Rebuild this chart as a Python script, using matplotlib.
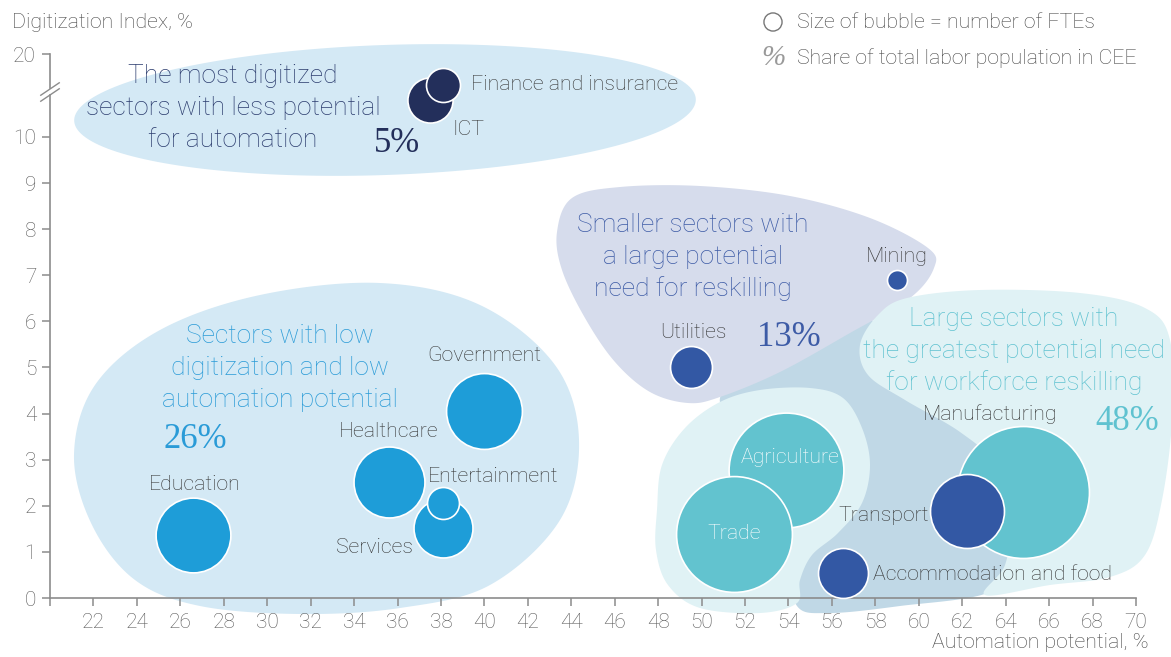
import numpy as np
import matplotlib
matplotlib.use('Agg')
import matplotlib.pyplot as plt
from matplotlib.patches import Polygon

# ---------------- data ----------------
sectors = ['ICT', 'Finance and insurance', 'Government', 'Healthcare', 'Services',
           'Entertainment', 'Education', 'Utilities', 'Mining', 'Agriculture',
           'Trade', 'Manufacturing', 'Transport', 'Accommodation and food']
automation = [37.5, 38.1, 40.0, 35.6, 38.1, 38.1, 26.6, 49.5, 59.0, 53.9, 51.5, 64.8, 62.2, 56.5]
digitization = [14.4, 16.3, 4.05, 2.52, 1.52, 2.07, 1.37, 5.0, 6.9, 2.78, 1.39, 2.3, 1.89, 0.54]
fte = [510, 290, 1440, 1260, 870, 256, 1400, 440, 100, 3300, 3360, 4360, 1370, 625]
group = ['digital', 'digital', 'low', 'low', 'low', 'low', 'low', 'small', 'small',
         'large', 'large', 'large', 'small', 'small']

x_ticks = list(range(20, 71, 2))
y_ticks = [0, 1, 2, 3, 4, 5, 6, 7, 8, 9, 10, 20]

group_colors = {'digital': '#232f5b', 'low': '#1e9dd8', 'small': '#3358a4', 'large': '#62c3cf'}

# label placement: (dx pts, dy pts, ha, color)
label_style = {
    'ICT': (16, -21, 'left', '#333333'),
    'Finance and insurance': (20, 0, 'left', '#333333'),
    'Government': (0, 40, 'center', '#333333'),
    'Healthcare': (0, 36, 'center', '#333333'),
    'Services': (-22, -14, 'right', '#333333'),
    'Entertainment': (-11, 19, 'left', '#333333'),
    'Education': (1, 36, 'center', '#333333'),
    'Utilities': (2, 25, 'center', '#333333'),
    'Mining': (0, 17, 'center', '#333333'),
    'Agriculture': (3, 9, 'center', 'white'),
    'Trade': (0, 0, 'center', 'white'),
    'Manufacturing': (-24, 56, 'center', '#333333'),
    'Transport': (-27, -3, 'right', '#333333'),
    'Accommodation and food': (22, -1, 'left', '#333333'),
}

region_titles = [
    (['The most digitized', 'sectors with less potential', 'for automation'], '5%', '#2b3c6e', '#232f5b'),
    (['Sectors with low', 'digitization and low', 'automation potential'], '26%', '#2a9bd7', '#2a9bd7'),
    (['Smaller sectors with', 'a large potential', 'need for reskilling'], '13%', '#3d5ba6', '#3d5ba6'),
    (['Large sectors with', 'the greatest potential need', 'for workforce reskilling'], '48%', '#5fc2d0',
     '#5fc2d0'),
]
# (title centre x, first line y, percent x, percent y) in pixels
region_pos = [(233, 76, 397, 143), (280, 336, 195, 440), (693, 225, 789, 337), (1014, 319, 1127, 422)]

FONT = ['Roboto', 'DejaVu Sans']
SERIF = ['Liberation Serif', 'DejaVu Serif']
plt.rcParams['font.family'] = FONT
plt.rcParams['font.weight'] = 'light'

LS = 15.3   # label size
TS = 19     # region title size
PS = 25     # percentage size
LINE_H = 32  # title line height, px

W, H = 1171, 657
fig = plt.figure(figsize=(W / 100, H / 100), dpi=100)

# background decoration axes in pixel coordinates
bg = fig.add_axes([0, 0, 1, 1], zorder=0)
bg.set_xlim(0, W)
bg.set_ylim(H, 0)
bg.axis('off')


def smooth_closed(pts, n=30):
    P = np.array(pts, float)
    N = len(P)
    out = []
    t = np.linspace(0, 1, n, endpoint=False)[:, None]
    for i in range(N):
        p0, p1, p2, p3 = P[i - 1], P[i], P[(i + 1) % N], P[(i + 2) % N]
        out.append(0.5 * ((2 * p1) + (-p0 + p2) * t + (2 * p0 - 5 * p1 + 4 * p2 - p3) * t ** 2
                          + (-p0 + 3 * p1 - 3 * p2 + p3) * t ** 3))
    return np.vstack(out)


def ellipse(cx, cy, a, b, rot_deg, n=200):
    th = np.linspace(0, 2 * np.pi, n)
    x, y = a * np.cos(th), b * np.sin(th)
    r = np.deg2rad(rot_deg)
    return np.column_stack([cx + x * np.cos(r) - y * np.sin(r), cy + x * np.sin(r) + y * np.cos(r)])


C_BLUE_BG = '#d4e9f5'
C_LAV = '#d6dcec'
C_BAND = '#c0d8e6'
C_TEAL_BG = '#e0f2f5'

# top region
bg.add_patch(Polygon(ellipse(385, 110, 311, 65, -2), closed=True, fc=C_BLUE_BG, ec='none'))
# left region
left_pts = [(74, 455), (95, 385), (160, 330), (260, 295), (380, 283), (480, 305), (555, 365),
            (579, 440), (560, 520), (490, 585), (400, 608), (300, 614), (200, 606), (135, 580), (92, 525)]
bg.add_patch(Polygon(smooth_closed(left_pts), closed=True, fc=C_BLUE_BG, ec='none'))
# band
band_pts = [(720, 398), (780, 358), (850, 322), (885, 330), (1000, 440), (1015, 555), (990, 592),
            (900, 606), (830, 613), (797, 606), (790, 560), (760, 450)]
bg.add_patch(Polygon(smooth_closed(band_pts), closed=True, fc=C_BAND, ec='none'))
# lavender
lav_pts = [(557, 232), (572, 198), (620, 187), (700, 186), (790, 196), (870, 218), (928, 248),
           (934, 268), (910, 298), (850, 333), (780, 372), (720, 397), (688, 403), (650, 392),
           (615, 362), (585, 318), (562, 270)]
bg.add_patch(Polygon(smooth_closed(lav_pts), closed=True, fc=C_LAV, ec='none'))
# right teal region
teal_pts = [(907, 298), (980, 290), (1080, 293), (1145, 308), (1170, 340), (1172, 420), (1162, 500),
            (1145, 555), (1110, 577), (1050, 585), (985, 595), (1005, 565), (1010, 520), (995, 465),
            (960, 432), (905, 400), (868, 375), (860, 345), (878, 315)]
bg.add_patch(Polygon(smooth_closed(teal_pts), closed=True, fc=C_TEAL_BG, ec='none'))
# agriculture lobe
lobe_pts = [(657, 510), (662, 465), (685, 428), (720, 402), (760, 390), (810, 388), (843, 398),
            (862, 428), (870, 465), (862, 503), (838, 533), (812, 555), (800, 580), (797, 603),
            (760, 613), (700, 608), (668, 585), (656, 550)]
bg.add_patch(Polygon(smooth_closed(lobe_pts), closed=True, fc=C_TEAL_BG, ec='none'))

# region titles and shares
for (lines, pct, tcol, pcol), (tx, ty, px, py) in zip(region_titles, region_pos):
    for k, line in enumerate(lines):
        bg.text(tx, ty + k * LINE_H, line, ha='center', va='center', fontsize=TS, color=tcol)
    bg.text(px, py, pct, ha='center', va='center', fontsize=PS, color=pcol, family=SERIF)

# legend
bg.scatter([773], [22], s=170, facecolors='none', edgecolors='#777777', linewidths=1.0)
bg.text(797, 22, 'Size of bubble = number of FTEs', ha='left', va='center', fontsize=LS, color='#444444')
bg.text(773, 58, '%', ha='center', va='center', fontsize=21, color='#999999', family=SERIF, style='italic')
bg.text(797, 58, 'Share of total labor population in CEE', ha='left', va='center', fontsize=LS,
        color='#444444')

# axis titles
bg.text(12, 22, 'Digitization Index, %', ha='left', va='center', fontsize=LS, color='#444444')
bg.text(1148, 643, 'Automation potential, %', ha='right', va='center', fontsize=LS, color='#444444')

# ---------------- main axes ----------------
left, right = 50 / W, 1136 / W
bottom, top = (H - 598) / H, (H - 54) / H
ax = fig.add_axes([left, bottom, right - left, top - bottom], zorder=1)
ax.patch.set_alpha(0)


def fwd(y):
    y = np.asarray(y, float)
    return np.where(y <= 10, y, 10 + (y - 10) * 0.18)


def inv(t):
    t = np.asarray(t, float)
    return np.where(t <= 10, t, 10 + (t - 10) / 0.18)


ax.set_yscale('function', functions=(fwd, inv))
ax.set_xlim(20, 70)
ax.set_ylim(0, 20)

colors = [group_colors[g] for g in group]
sizes = [f * 2.07 for f in fte]
for i, name in enumerate(sectors):
    ax.scatter([automation[i]], [digitization[i]], s=sizes[i], color=colors[i], edgecolors='white',
               linewidths=1.2, zorder=3 + i, clip_on=False)
    dx, dy, ha, col = label_style[name]
    ax.annotate(name, (automation[i], digitization[i]), xytext=(dx, dy), textcoords='offset points',
                ha=ha, va='center', fontsize=LS, color=col, zorder=30)

AX_C = '#8c8c8c'
for s in ['top', 'right', 'left']:
    ax.spines[s].set_visible(False)
ax.spines['bottom'].set_color(AX_C)
ax.spines['bottom'].set_linewidth(1.2)

ax.set_xticks(x_ticks)
ax.set_xticklabels(['' if v == 20 else str(v) for v in x_ticks])
ax.set_yticks(y_ticks)
ax.set_yticklabels([str(v) for v in y_ticks])
ax.tick_params(axis='both', colors=AX_C, length=6, width=1.1, labelsize=15, labelcolor='#595959')
ax.tick_params(axis='x', pad=5)
ax.tick_params(axis='y', pad=4)

# left spine with a break
ax.plot([20, 20], [0, 15.0], color=AX_C, lw=1.2, clip_on=False, zorder=2)
ax.plot([20, 20], [15.85, 20], color=AX_C, lw=1.2, clip_on=False, zorder=2)
ytr = ax.get_yaxis_transform()
for yc in [15.06, 15.78]:
    ax.plot([-0.0085, 0.0085], [yc - 0.75, yc + 0.75], color=AX_C, lw=1.0, transform=ytr,
            clip_on=False, zorder=2)

fig.savefig('out.png', dpi=100)
